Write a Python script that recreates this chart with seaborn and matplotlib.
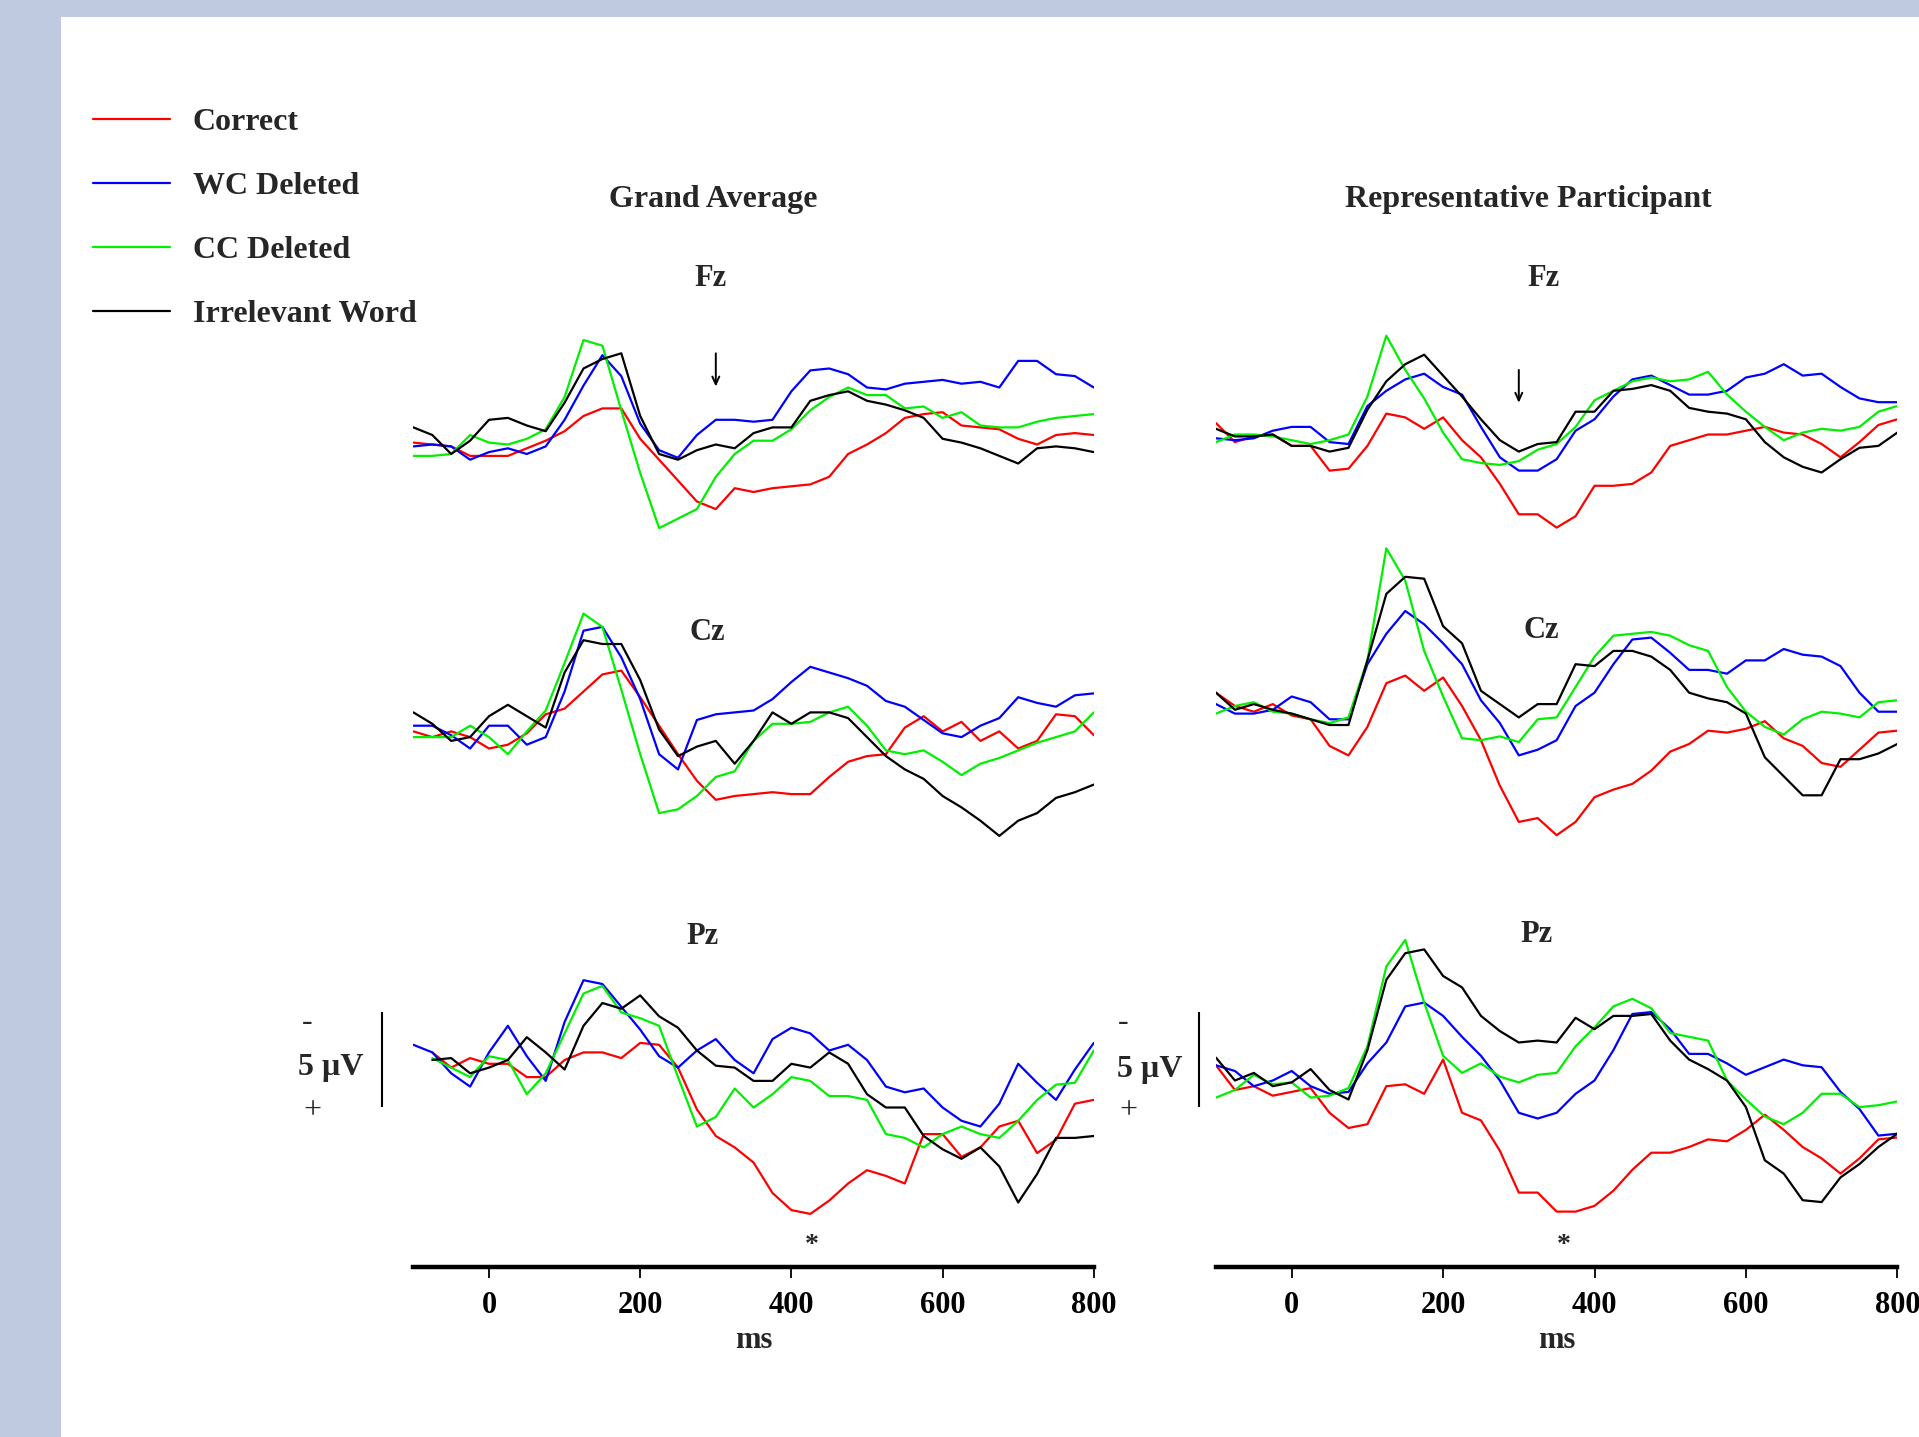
import numpy as np
import pandas as pd
import matplotlib
matplotlib.use("Agg")
import matplotlib.pyplot as plt
import seaborn as sns
from matplotlib.lines import Line2D
from matplotlib.patches import Rectangle

sns.set_style("white")
plt.rcParams['font.family'] = ['Liberation Serif', 'DejaVu Serif']
plt.rcParams['font.weight'] = 'bold'

# ---------------- data (µV, negative plotted up) ----------------
times = list(range(-100, 801, 25))
conditions = ["Correct", "WC Deleted", "CC Deleted", "Irrelevant Word"]
palette = {"Correct": "#FF0000", "WC Deleted": "#0000FF",
           "CC Deleted": "#00F000", "Irrelevant Word": "#000000"}
nan = float('nan')

# Grand Average - Fz
ga_fz_correct = [-0.3, -0.2, -0.1, 0.4, 0.4, 0.4, 0.0, -0.4, -0.9, -1.7, -2.1, -2.1, -0.5, 0.6, 1.7, 2.8, 3.2, 2.1, 2.3, 2.1, 2.0, 1.9, 1.5, 0.3, -0.2, -0.8, -1.6, -1.8, -1.9, -1.2, -1.1, -1.0, -0.5, -0.2, -0.7, -0.8, -0.7]
ga_fz_wc = [-0.1, -0.2, -0.1, 0.6, 0.2, 0.0, 0.3, -0.1, -1.5, -3.3, -4.9, -3.8, -1.3, 0.1, 0.5, -0.7, -1.5, -1.5, -1.4, -1.5, -3.0, -4.1, -4.2, -3.9, -3.2, -3.1, -3.4, -3.5, -3.6, -3.4, -3.5, -3.2, -4.6, -4.6, -3.9, -3.8, -3.2]
ga_fz_cc = [0.4, 0.4, 0.3, -0.7, -0.3, -0.2, -0.5, -1.0, -2.7, -5.7, -5.4, -2.0, 1.3, 4.2, 3.7, 3.2, 1.5, 0.3, -0.4, -0.4, -1.0, -2.0, -2.7, -3.2, -2.8, -2.8, -2.1, -2.2, -1.6, -1.9, -1.2, -1.1, -1.1, -1.4, -1.6, -1.7, -1.8]
ga_fz_irr = [-1.1, -0.7, 0.3, -0.4, -1.5, -1.6, -1.2, -0.9, -2.4, -4.2, -4.7, -5.0, -1.7, 0.3, 0.6, 0.1, -0.2, 0.0, -0.8, -1.1, -1.1, -2.5, -2.8, -3.0, -2.5, -2.3, -2.0, -1.6, -0.5, -0.3, 0.0, 0.4, 0.8, 0.0, -0.1, 0.0, 0.2]

# Grand Average - Cz
ga_cz_correct = [-0.1, 0.2, -0.1, 0.2, 0.8, 0.6, 0.0, -1.0, -1.3, -2.2, -3.1, -3.3, -1.9, -0.4, 1.1, 2.5, 3.5, 3.3, 3.2, 3.1, 3.2, 3.2, 2.3, 1.5, 1.2, 1.1, -0.3, -0.9, -0.1, -0.6, 0.4, -0.1, 0.8, 0.4, -1.0, -0.9, 0.1]
ga_cz_wc = [-0.4, -0.4, 0.1, 0.8, -0.4, -0.4, 0.6, 0.2, -2.2, -5.4, -5.6, -4.0, -1.8, 1.1, 1.9, -0.7, -1.0, -1.1, -1.2, -1.8, -2.7, -3.5, -3.2, -2.9, -2.5, -1.7, -1.4, -0.7, 0.0, 0.2, -0.4, -0.8, -1.9, -1.6, -1.4, -2.0, -2.1]
ga_cz_cc = [0.2, 0.2, 0.2, -0.4, 0.2, 1.1, -0.1, -1.2, -3.7, -6.3, -5.6, -2.3, 1.1, 4.2, 4.0, 3.3, 2.3, 2.0, 0.4, -0.5, -0.5, -0.6, -1.1, -1.4, -0.4, 0.9, 1.1, 0.9, 1.5, 2.2, 1.6, 1.3, 0.9, 0.5, 0.2, -0.1, -1.1]
ga_cz_irr = [-1.1, -0.5, 0.4, 0.2, -0.9, -1.5, -0.9, -0.3, -3.2, -4.9, -4.7, -4.7, -2.8, -0.2, 1.2, 0.7, 0.4, 1.6, 0.4, -1.1, -0.5, -1.1, -1.1, -0.8, 0.2, 1.2, 1.9, 2.4, 3.3, 3.9, 4.6, 5.4, 4.6, 4.2, 3.4, 3.1, 2.7]

# Grand Average - Pz
ga_pz_correct = [nan, -0.4, 0.4, -0.1, 0.2, 0.2, 0.9, 0.9, 0.0, -0.4, -0.4, -0.1, -0.9, -0.8, 0.4, 2.6, 4.0, 4.6, 5.4, 7.0, 7.9, 8.1, 7.4, 6.5, 5.8, 6.1, 6.5, 3.9, 3.9, 5.1, 4.6, 3.5, 3.2, 4.9, 4.2, 2.3, 2.1]
ga_pz_wc = [-0.8, -0.4, 0.7, 1.4, -0.4, -1.8, -0.2, 1.1, -2.0, -4.2, -4.0, -2.8, -1.6, -0.2, 0.4, -0.5, -1.1, 0.0, 0.7, -1.1, -1.7, -1.4, -0.5, -0.8, 0.0, 1.4, 1.7, 1.5, 2.5, 3.2, 3.5, 2.3, 0.2, 1.2, 2.1, 0.5, -0.9]
ga_pz_cc = [nan, -0.1, 0.4, 0.9, -0.2, 0.0, 1.8, 0.7, -1.4, -3.5, -3.9, -2.5, -2.2, -1.8, 0.9, 3.5, 3.0, 1.5, 2.5, 1.8, 0.9, 1.1, 1.9, 1.9, 2.1, 3.9, 4.1, 4.6, 3.9, 3.5, 3.9, 4.1, 3.2, 2.1, 1.3, 1.2, -0.5]
ga_pz_irr = [nan, 0.0, -0.1, 0.7, 0.4, 0.0, -1.2, -0.4, 0.5, -1.8, -3.0, -2.7, -3.4, -2.3, -1.7, -0.5, 0.3, 0.4, 1.1, 1.1, 0.2, 0.4, -0.4, 0.2, 1.8, 2.5, 2.5, 4.0, 4.7, 5.2, 4.6, 5.6, 7.5, 6.0, 4.1, 4.1, 4.0]

# Representative Participant - Fz
rp_fz_correct = [-0.8, 0.2, -0.1, -0.2, 0.4, 0.4, 1.7, 1.6, 0.4, -1.3, -1.1, -0.5, -1.1, 0.1, 1.0, 2.4, 4.0, 4.0, 4.7, 4.1, 2.5, 2.5, 2.4, 1.8, 0.4, 0.1, -0.2, -0.2, -0.4, -0.6, -0.3, -0.2, 0.3, 1.0, 0.2, -0.7, -1.0]
rp_fz_wc = [0.0, 0.1, 0.0, -0.4, -0.6, -0.6, 0.2, 0.3, -1.7, -2.5, -3.1, -3.4, -2.7, -2.3, -0.6, 1.0, 1.7, 1.7, 1.1, -0.4, -1.0, -2.2, -3.1, -3.3, -2.8, -2.3, -2.3, -2.5, -3.2, -3.4, -3.9, -3.3, -3.4, -2.7, -2.1, -1.9, -1.9]
rp_fz_cc = [0.2, -0.2, -0.2, -0.1, 0.1, 0.3, 0.1, -0.2, -2.2, -5.4, -3.6, -2.1, -0.3, 1.1, 1.3, 1.4, 1.2, 0.6, 0.3, -0.6, -2.0, -2.5, -3.0, -3.2, -3.0, -3.1, -3.5, -2.3, -1.4, -0.6, 0.1, -0.3, -0.5, -0.4, -0.6, -1.4, -1.7]
rp_fz_irr = [-0.5, -0.1, -0.1, -0.2, 0.4, 0.4, 0.7, 0.5, -1.5, -3.0, -3.9, -4.4, -3.3, -2.2, -1.0, 0.1, 0.7, 0.3, 0.2, -1.4, -1.4, -2.5, -2.6, -2.8, -2.5, -1.6, -1.4, -1.3, -1.0, 0.2, 1.0, 1.5, 1.8, 1.1, 0.5, 0.4, -0.3]

# Representative Participant - Cz
rp_cz_correct = [-1.0, -0.3, 0.0, -0.4, 0.2, 0.4, 1.8, 2.3, 0.8, -1.5, -1.9, -1.1, -1.8, -0.3, 1.5, 3.9, 5.8, 5.6, 6.5, 5.8, 4.5, 4.1, 3.8, 3.1, 2.1, 1.7, 1.0, 1.1, 0.9, 0.5, 1.4, 1.8, 2.7, 2.9, 2.0, 1.1, 1.0]
rp_cz_wc = [-0.4, 0.1, 0.1, -0.1, -0.8, -0.5, 0.4, 0.4, -2.5, -4.1, -5.3, -4.6, -3.6, -2.5, -0.6, 0.6, 2.3, 2.0, 1.5, -0.3, -1.0, -2.5, -3.8, -3.9, -3.1, -2.2, -2.2, -2.0, -2.7, -2.7, -3.3, -3.0, -2.9, -2.4, -1.0, 0.0, 0.0]
rp_cz_cc = [0.1, -0.3, -0.5, 0.0, 0.1, 0.4, 0.6, 0.3, -2.7, -8.6, -6.9, -3.2, -0.8, 1.4, 1.5, 1.3, 1.6, 0.4, 0.3, -1.3, -2.9, -4.0, -4.1, -4.2, -4.0, -3.5, -3.2, -1.3, 0.0, 0.8, 1.2, 0.4, 0.0, 0.1, 0.3, -0.5, -0.6]
rp_cz_irr = [-1.0, -0.1, -0.4, -0.1, 0.1, 0.4, 0.7, 0.7, -2.7, -6.2, -7.1, -7.0, -4.5, -3.6, -1.1, -0.4, 0.3, -0.4, -0.4, -2.5, -2.4, -3.2, -3.2, -2.9, -2.2, -1.0, -0.7, -0.5, 0.1, 2.4, 3.4, 4.4, 4.4, 2.5, 2.5, 2.2, 1.7]

# Representative Participant - Pz
rp_pz_correct = [-0.6, 0.7, 0.5, 1.0, 0.8, 0.6, 1.9, 2.7, 2.5, 0.5, 0.4, 0.9, -0.9, 1.9, 2.3, 3.9, 6.1, 6.1, 7.1, 7.1, 6.8, 6.0, 4.9, 4.0, 4.0, 3.7, 3.3, 3.4, 2.8, 2.0, 2.8, 3.7, 4.3, 5.1, 4.3, 3.3, 3.2]
rp_pz_wc = [-0.6, -0.3, 0.5, 0.2, -0.3, 0.5, 0.9, 0.8, -0.7, -1.8, -3.7, -3.9, -3.2, -2.1, -1.1, 0.2, 1.9, 2.2, 1.9, 0.9, 0.2, -1.4, -3.3, -3.4, -2.5, -1.2, -1.2, -0.7, -0.1, -0.5, -0.9, -0.6, -0.5, 0.8, 1.7, 3.1, 3.0]
rp_pz_cc = [1.1, 0.7, -0.1, 0.4, 0.3, 1.1, 1.0, 0.6, -1.6, -5.8, -7.2, -3.9, -1.1, -0.2, -0.7, 0.0, 0.3, -0.1, -0.2, -1.6, -2.6, -3.7, -4.1, -3.6, -2.3, -2.1, -1.9, 0.2, 1.2, 2.1, 2.5, 1.9, 0.9, 0.9, 1.6, 1.5, 1.3]
rp_pz_irr = [-1.0, 0.2, -0.2, 0.5, 0.3, -0.4, 0.7, 1.2, -1.4, -5.1, -6.5, -6.7, -5.3, -4.7, -3.2, -2.4, -1.8, -1.9, -1.8, -3.1, -2.5, -3.2, -3.2, -3.3, -1.9, -0.9, -0.4, 0.2, 1.6, 4.4, 5.1, 6.5, 6.6, 5.3, 4.6, 3.7, 3.0]

x_ticks = [0, 200, 400, 600, 800]
column_titles = ["Grand Average", "Representative Participant"]
electrodes = ["Fz", "Cz", "Pz"]

# ---------------- layout (pixel geometry) ----------------
W, H = 1919, 1437
PX_PER_UV = 19.0
HALF = 9.5

fig = plt.figure(figsize=(W / 100, H / 100), dpi=100)
fig.patch.set_facecolor('#BFC9E0')
fig.add_artist(Rectangle((61 / W, 0), 1, 1 - 17 / H, transform=fig.transFigure,
                         facecolor='white', edgecolor='none', zorder=-10))


def px_axes(x0, x1, ytop, ybot):
    return fig.add_axes([x0 / W, 1 - ybot / H, (x1 - x0) / W, (ybot - ytop) / H])


def ftext(x, y, s, **kw):
    fig.text(x / W, 1 - y / H, s, ha=kw.pop('ha', 'center'), va=kw.pop('va', 'center'), **kw)


columns = [
    dict(x0=413.4, x1=1093.8, title_x=713.5,
         panels=[([ga_fz_correct, ga_fz_wc, ga_fz_cc, ga_fz_irr], 448.3, (711, 279)),
                 ([ga_cz_correct, ga_cz_wc, ga_cz_cc, ga_cz_irr], 733.3, (707.6, 632)),
                 ([ga_pz_correct, ga_pz_wc, ga_pz_cc, ga_pz_irr], 1060.0, (702.5, 936))],
         arrow=(300, -5.0, -3.25), star=427, cal_t=-141.8, cal_mid=1059,
         cal_text=[(306.8, 1022, '-'), (330.9, 1068, '5 µV'), (312, 1111, '+')]),
    dict(x0=1216.0, x1=1897.3, title_x=1528.5,
         panels=[([rp_fz_correct, rp_fz_wc, rp_fz_cc, rp_fz_irr], 438.3, (1543.5, 279)),
                 ([rp_cz_correct, rp_cz_wc, rp_cz_cc, rp_cz_irr], 711.7, (1541.6, 630)),
                 ([rp_pz_correct, rp_pz_wc, rp_pz_cc, rp_pz_irr], 1076.7, (1536.1, 935))],
         arrow=(300, -3.6, -1.87), star=360, cal_t=-122.2, cal_mid=1059,
         cal_text=[(1123.5, 1022, '-'), (1149.6, 1069, '5 µV'), (1128.7, 1111, '+')]),
]

FS = 23
for ci, col in enumerate(columns):
    ftext(col['title_x'], 199.5, column_titles[ci], fontsize=FS, fontweight='bold')
    for pi, (series, base, lab) in enumerate(col['panels']):
        ax = px_axes(col['x0'], col['x1'], base - HALF * PX_PER_UV, base + HALF * PX_PER_UV)
        ax.patch.set_alpha(0)
        df = pd.DataFrame({
            'time': times * len(conditions),
            'uV': sum(series, []),
            'condition': np.repeat(conditions, len(times)),
        })
        sns.lineplot(data=df, x='time', y='uV', hue='condition', hue_order=conditions,
                     palette=palette, estimator=None, errorbar=None, sort=False,
                     legend=False, linewidth=1.6, ax=ax)
        ax.set_xlim(-100, 800)
        ax.set_ylim(HALF, -HALF)
        ax.axis('off')
        ftext(lab[0], lab[1], electrodes[pi], fontsize=22, fontweight='bold')

        if pi == 0:
            t, y0, y1 = col['arrow']
            ax.annotate('', xy=(t, y1), xytext=(t, y0),
                        arrowprops=dict(arrowstyle='->,head_length=0.55,head_width=0.25',
                                        lw=1.4, color='black', shrinkA=0, shrinkB=0),
                        annotation_clip=False)
        if pi == 2:
            star_base = (1252 - base) / PX_PER_UV
            ax.text(col['star'], star_base, '*', ha='center', va='baseline',
                    fontsize=20, fontweight='bold', clip_on=False)
            mid = (col['cal_mid'] - base) / PX_PER_UV
            ax.plot([col['cal_t'], col['cal_t']], [mid - 2.5, mid + 2.5], color='black',
                    lw=1.5, clip_on=False, solid_capstyle='butt')
            for (tx, ty, s) in col['cal_text']:
                ftext(tx, ty, s, fontsize=FS, fontweight='bold' if 'V' in s else 'normal')

    # x axis
    axb = px_axes(col['x0'], col['x1'], 1262, 1267)
    axb.patch.set_alpha(0)
    axb.set_xlim(-100, 800)
    axb.set_xticks(x_ticks)
    axb.set_xticklabels([str(v) for v in x_ticks])
    axb.set_yticks([])
    for s in ['top', 'left', 'right']:
        axb.spines[s].set_visible(False)
    axb.spines['bottom'].set_linewidth(3.2)
    axb.spines['bottom'].set_color('black')
    axb.tick_params(axis='x', direction='out', length=8, width=1.3, pad=9,
                    labelsize=22, colors='black', bottom=True)
    for lbl in axb.get_xticklabels():
        lbl.set_fontweight('bold')
    axb.set_xlabel('ms', fontsize=22, fontweight='bold', labelpad=4.5)

# legend
handles = [Line2D([0], [0], color=palette[c], lw=1.6) for c in conditions]
fig.legend(handles, conditions, loc='upper left', bbox_to_anchor=(93 / W, 1 - 108 / H),
           frameon=False, handlelength=2.4, handletextpad=0.72, labelspacing=1.085,
           borderpad=0, borderaxespad=0,
           prop={'family': 'Liberation Serif', 'weight': 'bold', 'size': FS})

fig.savefig('out.png', dpi=100, facecolor=fig.get_facecolor())
